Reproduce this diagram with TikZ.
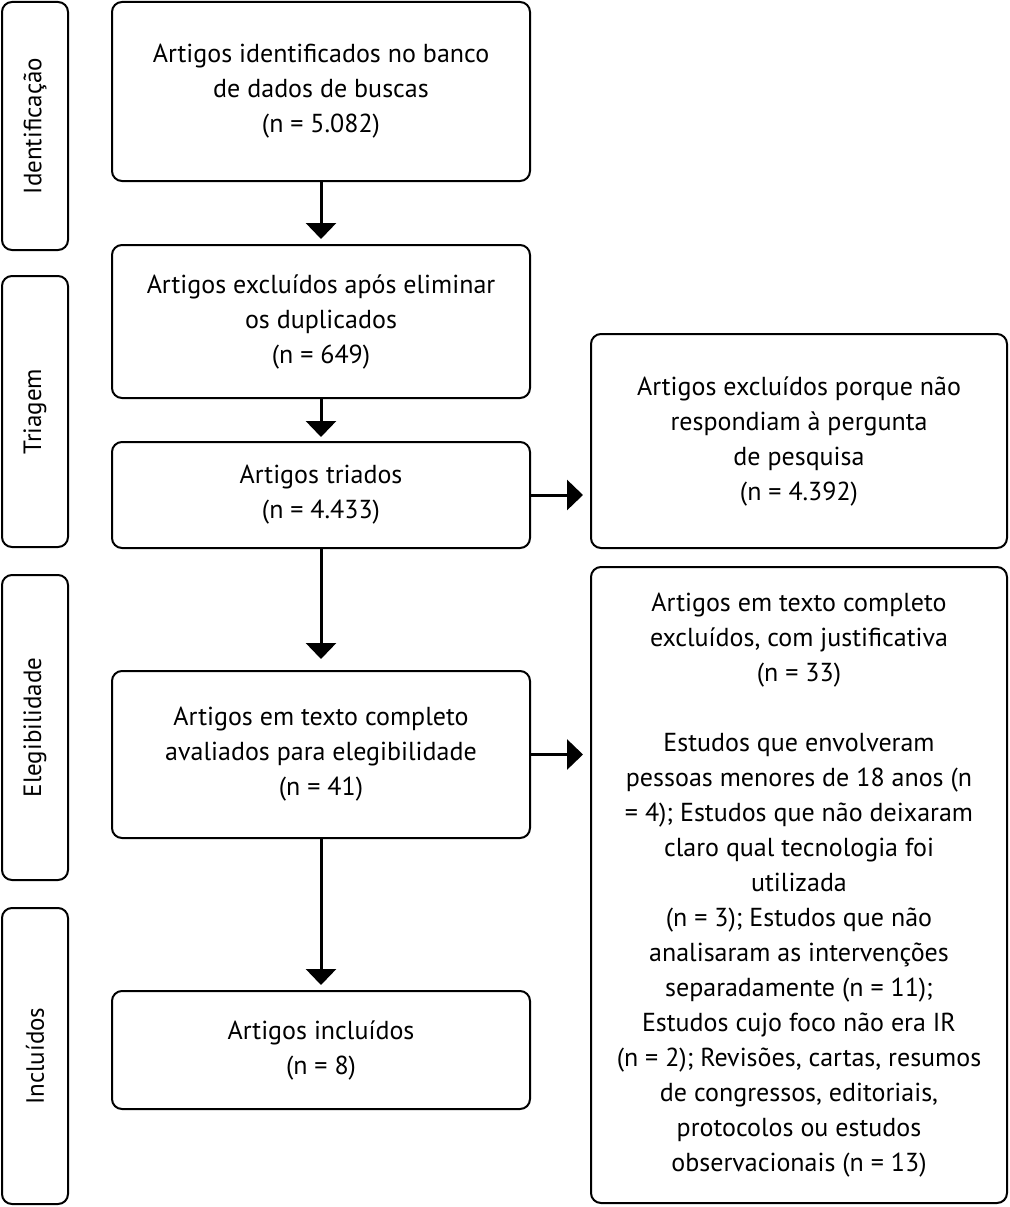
\documentclass[tikz,border=0pt]{standalone}
\usepackage{fontspec}
\setmainfont{PT Sans}
\usetikzlibrary{arrows.meta}
\begin{document}
\begin{tikzpicture}[x=1pt,y=-1pt,
  box/.style={draw=black, line width=2pt, rounded corners=10pt, inner sep=0pt, align=center,
    font=\fontsize{26}{35}\selectfont},
  side/.style={draw=black, line width=2pt, rounded corners=10pt, inner sep=0pt},
  sidelabel/.style={rotate=90, font=\fontsize{25}{30}\selectfont, inner sep=0pt},
  arr/.style={line width=3pt, -{Triangle[width=30pt,length=16pt]}}]
\useasboundingbox (0,0) rectangle (1009,1207);
% side boxes
\node[side, minimum width=66pt, minimum height=248pt] (s1) at (35,126) {};
\node[sidelabel] (l1) at (s1.center) {Identificação};
\node[side, minimum width=66pt, minimum height=271pt] (s2) at (35,411.5) {};
\node[sidelabel] (l2) at (s2.center) {Triagem};
\node[side, minimum width=66pt, minimum height=305pt] (s3) at (35,727.5) {};
\node[sidelabel] (l3) at (s3.center) {Elegibilidade};
\node[side, minimum width=66pt, minimum height=296pt] (s4) at (35,1056) {};
\node[sidelabel] (l4) at (s4.center) {Incluídos};
% main boxes
\node[box, minimum width=418pt, minimum height=179pt] (b1) at (321,91.5)
  {Artigos identificados no banco\\de dados de buscas\\(n = 5.082)};
\node[box, minimum width=418pt, minimum height=153pt] (b2) at (321,321.5)
  {Artigos excluídos após eliminar\\os duplicados\\(n = 649)};
\node[box, minimum width=418pt, minimum height=106pt] (b3) at (321,495)
  {Artigos triados\\(n = 4.433)};
\node[box, minimum width=418pt, minimum height=167pt] (b4) at (321,754.5)
  {Artigos em texto completo\\avaliados para elegibilidade\\(n = 41)};
\node[box, minimum width=418pt, minimum height=118pt] (b5) at (321,1050)
  {Artigos incluídos\\(n = 8)};
% right boxes
\node[box, minimum width=416pt, minimum height=214pt] (r1) at (799,441)
  {Artigos excluídos porque não\\respondiam à pergunta\\de pesquisa\\(n = 4.392)};
\node[box, minimum width=416pt, minimum height=636pt] (r2) at (799,885)
  {Artigos em texto completo\\excluídos, com justificativa\\(n = 33)\\[35pt]
   Estudos que envolveram\\pessoas menores de 18 anos (n\\= 4); Estudos que não deixaram\\claro qual tecnologia foi\\utilizada\\(n = 3); Estudos que não\\analisaram as intervenções\\separadamente (n = 11);\\Estudos cujo foco não era IR\\(n = 2); Revisões, cartas, resumos\\de congressos, editoriais,\\protocolos ou estudos\\observacionais (n = 13)};
% arrows
\draw[arr, shorten >=5pt] (b1.south) -- (b2.north);
\draw[arr, shorten >=4pt] (b2.south) -- (b3.north);
\draw[arr, shorten >=11pt] (b3.south) -- (b4.north);
\draw[arr, shorten >=5pt] (b4.south) -- (b5.north);
\draw[arr, shorten >=7pt] (b3.east) -- (b3.east -| r1.west);
\draw[arr, shorten >=7pt] (b4.east) -- (b4.east -| r2.west);
\end{tikzpicture}
\end{document}
